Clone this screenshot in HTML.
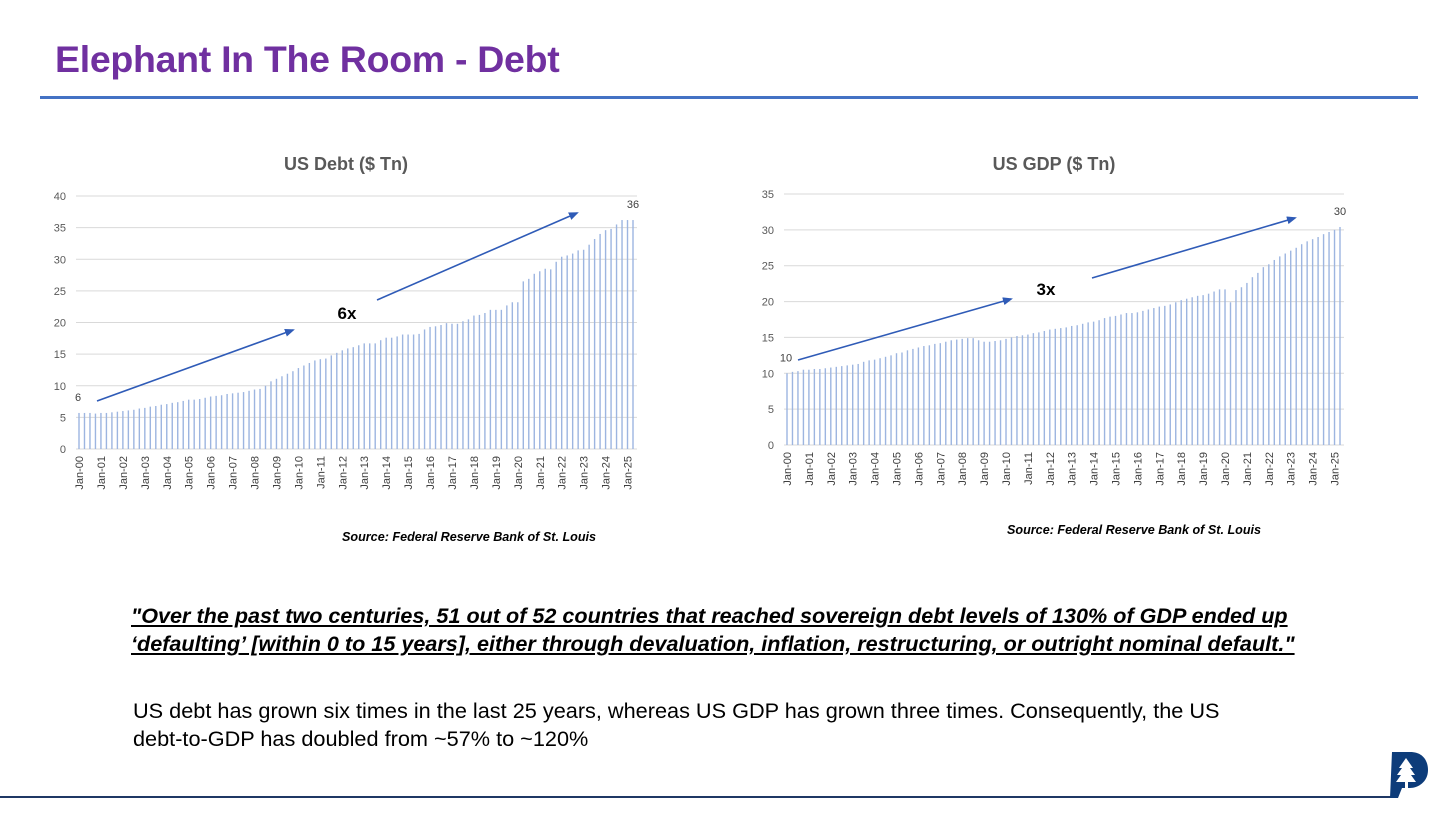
<!DOCTYPE html>
<html><head><meta charset="utf-8"><style>
body{margin:0;width:1456px;height:819px;background:#fff;overflow:hidden;font-family:"Liberation Sans",sans-serif;position:relative}
.abs{position:absolute}
</style></head><body>
<div class="abs" style="left:55px;top:38px;font-size:37.5px;font-weight:bold;color:#7030A0;letter-spacing:-0.3px">Elephant In The Room - Debt</div>
<div class="abs" style="left:40px;top:96px;width:1378px;height:3px;background:#4472C4"></div>
<svg class="abs" style="left:0;top:0" width="1456" height="819">
<defs><marker id="ah" markerWidth="10" markerHeight="8" refX="8" refY="4" orient="auto" markerUnits="userSpaceOnUse"><path d="M0,0 L10,4 L0,8 z" fill="#2F5BB7"/></marker></defs>
<g id="c1"></g>
<g id="c2"></g>
</svg>
<div class="abs" style="left:342px;top:530px;font-size:12.6px;font-weight:bold;font-style:italic">Source: Federal Reserve Bank of St. Louis</div>
<div class="abs" style="left:1007px;top:523px;font-size:12.6px;font-weight:bold;font-style:italic">Source: Federal Reserve Bank of St. Louis</div>
<div class="abs" style="left:131px;top:602px;font-size:21.6px;font-weight:bold;font-style:italic;text-decoration:underline;line-height:28px;white-space:nowrap">"Over the past two centuries, 51 out of 52 countries that reached sovereign debt levels of 130% of GDP ended up<br>‘defaulting’ [within 0 to 15 years], either through devaluation, inflation, restructuring, or outright nominal default."</div>
<div class="abs" style="left:133px;top:697px;font-size:21.7px;line-height:28px;white-space:nowrap">US debt has grown six times in the last 25 years, whereas US GDP has grown three times. Consequently, the US<br>debt-to-GDP has doubled from ~57% to ~120%</div>
<div class="abs" style="left:0;top:796px;width:1392px;height:2px;background:#1F3864"></div>
<svg class="abs" style="left:1388px;top:750px" width="42" height="50"><path d="M4,2 H22 C36,2 40,12 40,20 C40,32 30,38 22,38 H14 L10,48 H2 Z" fill="#0D3C7A"/><path d="M18,8 L11,18 H14 L9,25 H13 L8,32 H17 V40 H20 V32 H28 L23,25 H27 L22,18 H25 Z" fill="#fff"/></svg>
<script>
const debtValues=[5.7,5.7,5.7,5.6,5.7,5.7,5.8,5.9,6.0,6.1,6.2,6.4,6.5,6.7,6.8,7.0,7.1,7.3,7.4,7.6,7.8,7.8,7.9,8.1,8.3,8.4,8.5,8.7,8.8,8.9,9.0,9.2,9.4,9.5,10.0,10.7,11.1,11.5,11.9,12.3,12.8,13.2,13.6,14.0,14.2,14.3,14.8,15.2,15.6,15.9,16.1,16.4,16.7,16.7,16.7,17.2,17.6,17.6,17.8,18.1,18.1,18.1,18.2,18.9,19.3,19.4,19.6,19.9,19.8,19.8,20.2,20.5,21.1,21.2,21.5,22.0,22.0,22.0,22.7,23.2,23.2,26.5,26.9,27.7,28.1,28.5,28.4,29.6,30.4,30.6,30.9,31.4,31.5,32.3,33.2,34.0,34.6,34.8,35.5,36.2,36.2,36.2];
const gdpValues=[10.0,10.2,10.3,10.5,10.5,10.6,10.6,10.7,10.8,10.9,11.0,11.1,11.2,11.3,11.6,11.8,11.9,12.1,12.3,12.5,12.8,12.9,13.2,13.4,13.6,13.8,13.9,14.1,14.2,14.4,14.6,14.7,14.8,14.9,14.9,14.6,14.4,14.4,14.5,14.6,14.8,15.0,15.2,15.3,15.4,15.6,15.7,15.9,16.1,16.2,16.3,16.4,16.6,16.7,16.9,17.1,17.2,17.4,17.7,17.9,18.0,18.2,18.4,18.4,18.5,18.7,18.9,19.1,19.3,19.4,19.6,19.9,20.2,20.4,20.6,20.8,20.9,21.1,21.4,21.7,21.7,19.9,21.6,22.0,22.6,23.4,24.0,24.8,25.2,25.8,26.3,26.7,27.1,27.5,28.0,28.4,28.7,29.0,29.4,29.7,30.0,30.4];
const yearLabels=["Jan-00","Jan-01","Jan-02","Jan-03","Jan-04","Jan-05","Jan-06","Jan-07","Jan-08","Jan-09","Jan-10","Jan-11","Jan-12","Jan-13","Jan-14","Jan-15","Jan-16","Jan-17","Jan-18","Jan-19","Jan-20","Jan-21","Jan-22","Jan-23","Jan-24","Jan-25"];
const debtTicks=[0,5,10,15,20,25,30,35,40];
const gdpTicks=[0,5,10,15,20,25,30,35];
const NS="http://www.w3.org/2000/svg";
function mk(g,t,a,txt){const e=document.createElementNS(NS,t);for(const k in a)e.setAttribute(k,a[k]);if(txt!=null)e.textContent=txt;g.appendChild(e);return e;}
function draw(id,vals,ticks,cfg){
 const g=document.getElementById(id);
 const y=v=>cfg.y0-(v/ticks[ticks.length-1])*(cfg.y0-cfg.y1);
 const step=(cfg.x1-cfg.x0)/(vals.length-1);
 const x=i=>cfg.x0+i*step;
 const t=mk(g,'text',{x:cfg.tx,y:170,'text-anchor':'middle','font-size':18,'font-weight':'bold',fill:'#595959'},cfg.title);
 
 
 ticks.forEach(v=>{
  const l=mk(g,'line',{x1:cfg.x0-3,x2:cfg.x1+4,y1:y(v),y2:y(v),stroke:'#D9D9D9','stroke-width':1});
  
  
  const tl=mk(g,'text',{x:cfg.x0-13,y:y(v)+4,'text-anchor':'end','font-size':11,fill:'#595959'},String(v));
  
  
 });
 vals.forEach((v,i)=>{
  const r=mk(g,'rect',{x:x(i)-0.7,y:y(v),width:1.4,height:cfg.y0-y(v),fill:'#9DB5E0'});
  
  
 });
 yearLabels.forEach((s,k)=>{
  const xx=x(k*4)+4;
  const tl=mk(g,'text',{x:0,y:0,'text-anchor':'end','font-size':11,fill:'#404040',transform:`translate(${xx},${cfg.y0+7}) rotate(-90)`},s);
  
  
 });
 const f=mk(g,'text',{x:x(0)-1,y:y(vals[0])-12,'text-anchor':'middle','font-size':11,fill:'#404040'},String(Math.round(vals[0])));
 
 
 const la=mk(g,'text',{x:x(vals.length-1),y:y(vals[vals.length-1])-12,'text-anchor':'middle','font-size':11,fill:'#404040'},String(Math.round(vals[vals.length-1])));
 
 
 cfg.arrows.forEach(a=>{
  const ar=mk(g,'line',{x1:a[0],y1:a[1],x2:a[2],y2:a[3],stroke:'#2F5BB7','stroke-width':1.6,'marker-end':'url(#ah)'});
  
  
 });
 const an=mk(g,'text',{x:cfg.ann[0],y:cfg.ann[1],'text-anchor':'middle','font-size':17,'font-weight':'bold',fill:'#000'},cfg.ann[2]);
 
 
}
draw('c1',debtValues,debtTicks,{x0:79,x1:633,y0:449,y1:196,tx:346,title:'US Debt ($ Tn)',arrows:[[97,401,293,330],[377,300,577,213]],ann:[347,319,'6x']});
draw('c2',gdpValues,gdpTicks,{x0:787,x1:1340,y0:445,y1:194,tx:1054,title:'US GDP ($ Tn)',arrows:[[798,360,1011,299],[1092,278,1295,218]],ann:[1046,295,'3x']});
</script>
</body></html>
